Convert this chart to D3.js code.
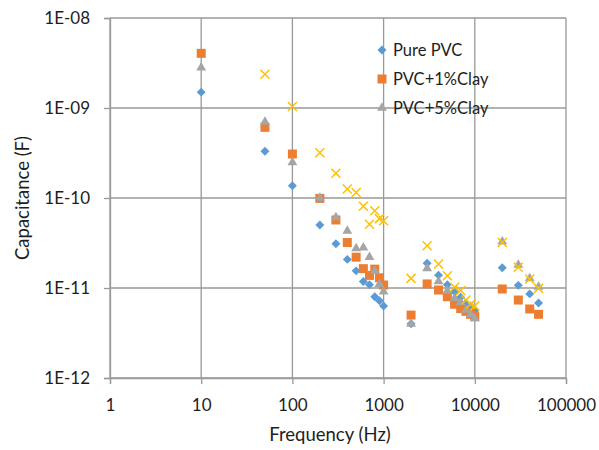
<!DOCTYPE html>
<html>
<head>
<meta charset="utf-8">
<title>Capacitance vs Frequency</title>
<script src="https://cdn.jsdelivr.net/npm/d3@7"></script>
<style>
  body { margin: 0; background: #fff; }
  text { font-family: Lato, "Open Sans", sans-serif; fill: #1e1e1e; }
</style>
</head>
<body>
<svg id="chart" width="599" height="450"></svg>
<script>
// frequency (Hz) at which each sample was measured
const freqs = [10, 50, 100, 200, 300, 400, 500, 600, 700, 800, 900, 1000,
  2000, 3000, 4000, 5000, 6000, 7000, 8000, 9000, 10000, 20000, 30000, 40000, 50000]

const purePVC = [1.5e-9, 3.3e-10, 1.37e-10, 5.0e-11, 3.1e-11, 2.08e-11, 1.55e-11, 1.18e-11, 1.09e-11, 8.0e-12, 7.2e-12, 6.3e-12,
  4.0e-12, 1.88e-11, 1.39e-11, 1.09e-11, 9.1e-12, 7.9e-12, 6.8e-12, 6.1e-12, 5.6e-12, 1.68e-11, 1.07e-11, 8.6e-12, 6.8e-12]

const pvc1Clay = [4.05e-9, 6.1e-10, 3.08e-10, 9.9e-11, 5.7e-11, 3.2e-11, 2.2e-11, 1.64e-11, 1.38e-11, 1.62e-11, 1.3e-11, 1.08e-11,
  5.0e-12, 1.11e-11, 9.5e-12, 8.0e-12, 6.6e-12, 5.9e-12, 5.5e-12, 5.1e-12, 4.8e-12, 9.75e-12, 7.35e-12, 5.85e-12, 5.1e-12]

const pvc5Clay = [2.8e-9, 7.0e-10, 2.49e-10, 1.0e-10, 6.1e-11, 4.3e-11, 2.76e-11, 2.8e-11, 2.2e-11, 1.55e-11, 1.1e-11, 9.1e-12,
  4.0e-12, 1.65e-11, 1.18e-11, 9.3e-12, 7.7e-12, 6.9e-12, 5.7e-12, 5.1e-12, 4.6e-12, 3.27e-11, 1.8e-11, 1.28e-11, 1.03e-11]

// fourth series (yellow crosses), not listed in the legend
const series4 = [null, 2.37e-9, 1.04e-9, 3.19e-10, 1.88e-10, 1.26e-10, 1.15e-10, 8.1e-11, 5.1e-11, 7.2e-11, 5.9e-11, 5.6e-11,
  1.28e-11, 2.95e-11, 1.85e-11, 1.37e-11, 1.02e-11, 9.4e-12, 7.35e-12, 6.6e-12, 6.3e-12, 3.2e-11, 1.7e-11, 1.26e-11, 9.9e-12]

const xTicks = [1, 10, 100, 1000, 10000, 100000]
const xTickLabels = ["1", "10", "100", "1000", "10000", "100000"]
const yTicks = [1e-12, 1e-11, 1e-10, 1e-9, 1e-8]
const yTickLabels = ["1E-12", "1E-11", "1E-10", "1E-09", "1E-08"]

const legendNames = ["Pure PVC", "PVC+1%Clay", "PVC+5%Clay"]

const margin = {left: 110, top: 18, right: 33, bottom: 72}
const width = 599 - margin.left - margin.right
const height = 450 - margin.top - margin.bottom
const gridColor = "#999"

const svg = d3.select("#chart")
const g = svg.append("g").attr("transform", `translate(${margin.left},${margin.top})`)

const x = d3.scaleLog().domain([1, 100000]).range([0, width])
const y = d3.scaleLog().domain([1e-12, 1e-8]).range([height, 0])

// gridlines
g.append("g").selectAll("line").data(xTicks).join("line")
  .attr("x1", d => x(d)).attr("x2", d => x(d))
  .attr("y1", 0).attr("y2", height)
  .attr("stroke", gridColor).attr("stroke-width", 1.3)
g.append("g").selectAll("line").data(yTicks).join("line")
  .attr("x1", 0).attr("x2", width)
  .attr("y1", d => y(d)).attr("y2", d => y(d))
  .attr("stroke", gridColor).attr("stroke-width", 1.3)

// axes
const xAxis = d3.axisBottom(x).tickValues(xTicks)
  .tickFormat((d, i) => xTickLabels[i]).tickSize(6).tickPadding(15)
const yAxis = d3.axisLeft(y).tickValues(yTicks)
  .tickFormat((d, i) => yTickLabels[i]).tickSize(6).tickPadding(14)

const gx = g.append("g").attr("transform", `translate(0,${height})`).call(xAxis)
const gy = g.append("g").call(yAxis)
for (const ax of [gx, gy]) {
  ax.select(".domain").attr("stroke", gridColor).attr("stroke-width", 1.3)
  ax.selectAll(".tick line").attr("stroke", gridColor).attr("stroke-width", 1.3)
  ax.selectAll(".tick text").attr("fill", "#1e1e1e").style("font-size", "17px")
    .style("font-family", "Lato, 'Open Sans', sans-serif")
}

// axis titles
svg.append("text")
  .attr("x", 330).attr("y", 441)
  .attr("text-anchor", "middle").style("font-size", "18.5px")
  .text("Frequency (Hz)")
svg.append("text")
  .attr("transform", `translate(29,${margin.top + height / 2}) rotate(-90)`)
  .attr("text-anchor", "middle").style("font-size", "18.5px")
  .text("Capacitance (F)")

// markers
const diamond = d3.symbol().type(d3.symbolSquare).size(40)
const square = d3.symbol().type(d3.symbolSquare).size(81)
const triangle = d3.symbol().type(d3.symbolTriangle).size(42)

function pts(vals) {
  return freqs.map((f, i) => ({f: f, v: vals[i]})).filter(d => d.v != null)
}

g.append("g").selectAll("path").data(pts(purePVC)).join("path")
  .attr("d", diamond)
  .attr("transform", d => `translate(${x(d.f)},${y(d.v)}) rotate(45)`)
  .attr("fill", "#5b9bd5")

g.append("g").selectAll("path").data(pts(pvc1Clay)).join("path")
  .attr("d", square)
  .attr("transform", d => `translate(${x(d.f)},${y(d.v)})`)
  .attr("fill", "#ed7d31")

g.append("g").selectAll("path").data(pts(pvc5Clay)).join("path")
  .attr("d", triangle)
  .attr("transform", d => `translate(${x(d.f)},${y(d.v)})`)
  .attr("fill", "#a5a5a5")

g.append("g").selectAll("path").data(pts(series4)).join("path")
  .attr("d", "M-4.5,-4.5L4.5,4.5M-4.5,4.5L4.5,-4.5")
  .attr("transform", d => `translate(${x(d.f)},${y(d.v)})`)
  .attr("stroke", "#ffc000").attr("stroke-width", 1.5).attr("fill", "none")

// legend (no background, gridlines show through)
const legendMarks = [diamond, square, triangle]
const legendColors = ["#5b9bd5", "#ed7d31", "#a5a5a5"]
const legend = svg.append("g").attr("transform", "translate(382,50)")
legendNames.forEach((name, i) => {
  const row = legend.append("g").attr("transform", `translate(0,${i * 29})`)
  row.append("path")
    .attr("d", legendMarks[i])
    .attr("transform", i === 0 ? "rotate(45)" : null)
    .attr("fill", legendColors[i])
  row.append("text").attr("x", 11).attr("y", 6).style("font-size", "16.5px").text(name)
})
</script>
</body>
</html>
